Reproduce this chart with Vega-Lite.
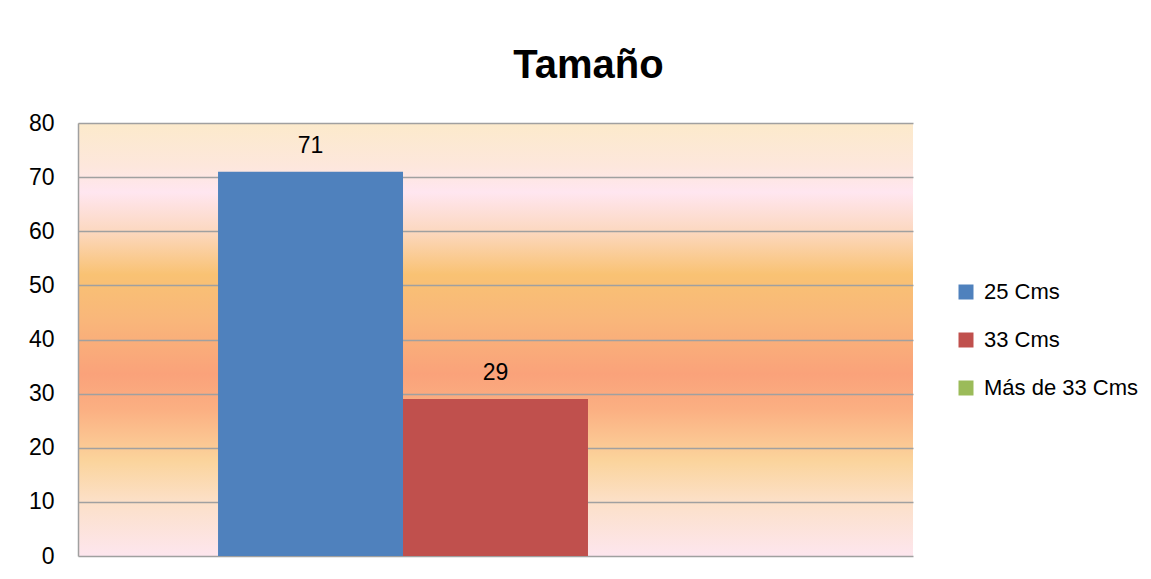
{
  "$schema": "https://vega.github.io/schema/vega-lite/v6.json",
  "autosize": "none",
  "width": 835,
  "height": 433,
  "padding": {"left": 78, "top": 123, "right": 238, "bottom": 23},
  "background": "white",
  "config": {
    "view": {
      "stroke": null,
      "fill": {
        "gradient": "linear",
        "x1": 0, "y1": 0, "x2": 0, "y2": 1,
        "stops": [
          {"offset": 0.0, "color": "#FCEACB"},
          {"offset": 0.1, "color": "#FDE7DC"},
          {"offset": 0.16, "color": "#FFE6F0"},
          {"offset": 0.25, "color": "#FCD8C0"},
          {"offset": 0.35, "color": "#F9C273"},
          {"offset": 0.45, "color": "#F9B77A"},
          {"offset": 0.58, "color": "#FAA27A"},
          {"offset": 0.66, "color": "#FBAF82"},
          {"offset": 0.78, "color": "#FBD49C"},
          {"offset": 0.875, "color": "#FCE0C8"},
          {"offset": 1.0, "color": "#FDE6EE"}
        ]
      }
    },
    "font": "Liberation Sans"
  },
  "title": {
    "text": "Tamaño",
    "font": "Liberation Sans",
    "fontSize": 40,
    "fontWeight": "bold",
    "color": "#000000",
    "anchor": "middle",
    "dx": 93,
    "dy": 52,
    "baseline": "alphabetic",
    "offset": 46
  },
  "datasets": {
    "bars": [
      {"serie": "25 Cms", "valor": 71},
      {"serie": "33 Cms", "valor": 29},
      {"serie": "Más de 33 Cms", "valor": 0}
    ]
  },
  "layer": [
    {
      "data": {"name": "bars"},
      "mark": {"type": "bar"},
      "encoding": {
        "x": {
          "field": "serie",
          "type": "nominal",
          "sort": null,
          "scale": {"domain": ["25 Cms", "33 Cms", "Más de 33 Cms"], "paddingInner": 0, "paddingOuter": 0.757},
          "axis": null
        },
        "y": {
          "field": "valor",
          "type": "quantitative",
          "scale": {"domain": [0, 80], "nice": false},
          "axis": {
            "values": [0, 10, 20, 30, 40, 50, 60, 70, 80],
            "grid": true,
            "gridColor": "#A0A0A0",
            "gridWidth": 1.5,
            "gridOpacity": 1,
            "domain": true,
            "domainColor": "#A0A0A0",
            "domainWidth": 1.5,
            "ticks": false,
            "labelPadding": 24,
            "labelFontSize": 23,
            "labelColor": "#000000",
            "labelFont": "Liberation Sans",
            "title": null
          }
        },
        "color": {
          "field": "serie",
          "type": "nominal",
          "sort": null,
          "scale": {"domain": ["25 Cms", "33 Cms", "Más de 33 Cms"], "range": ["#4F81BD", "#C0504D", "#9BBB59"]},
          "legend": {
            "title": null,
            "orient": "none",
            "legendX": 877,
            "legendY": 158,
            "symbolType": "square",
            "symbolSize": 225,
            "symbolStrokeWidth": 0,
            "labelFontSize": 22,
            "labelColor": "#000000",
            "labelFont": "Liberation Sans",
            "labelOffset": 7,
            "rowPadding": 26
          }
        }
      }
    },
    {
      "data": {"name": "bars"},
      "transform": [{"filter": "datum.valor > 0"}],
      "mark": {"type": "text", "baseline": "alphabetic", "dy": -19, "fontSize": 23, "color": "#000000", "font": "Liberation Sans"},
      "encoding": {
        "x": {"field": "serie", "type": "nominal", "sort": null},
        "y": {"field": "valor", "type": "quantitative"},
        "text": {"field": "valor", "type": "quantitative"}
      }
    }
  ]
}
